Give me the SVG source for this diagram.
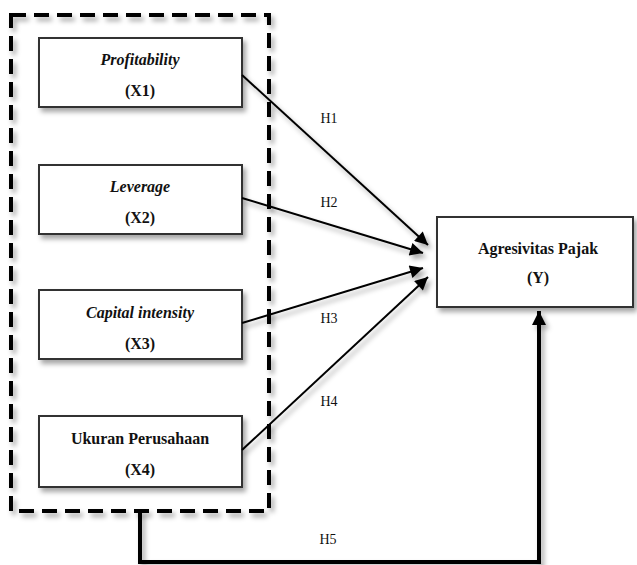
<svg xmlns="http://www.w3.org/2000/svg" width="637" height="565" viewBox="0 0 637 565">
<style>
.box{fill:#fff;stroke:#333;stroke-width:2;}
.t{font-family:"Liberation Serif","DejaVu Serif",serif;font-size:16px;font-weight:bold;fill:#111;text-anchor:middle;}
.i{font-style:italic;}
.lab{font-family:"Liberation Serif","DejaVu Serif",serif;font-size:14px;fill:#111;text-anchor:middle;}
.ln{stroke:#000;stroke-width:2;fill:none;}
</style>
<defs>
<filter id="sh" x="-20%" y="-20%" width="140%" height="150%">
<feDropShadow dx="3" dy="4" stdDeviation="2.5" flood-color="#000" flood-opacity="0.35"/>
</filter>
<marker id="ah" viewBox="0 0 10 10" refX="10" refY="5" markerWidth="7.5" markerHeight="6.5" markerUnits="strokeWidth" orient="auto">
<path d="M0,0 L10,5 L0,10 Z" fill="#000"/>
</marker>
<marker id="ah2" viewBox="0 0 10 10" refX="10" refY="5" markerWidth="4" markerHeight="3.5" markerUnits="strokeWidth" orient="auto">
<path d="M0,0 L10,5 L0,10 Z" fill="#000"/>
</marker>
</defs>
<g id="group-x" filter="url(#sh)">
<rect x="11" y="15" width="258" height="496" fill="none" stroke="#000" stroke-width="4" stroke-dasharray="15,8"/>
</g>
<g id="x1">
<rect class="box" x="39" y="38" width="203" height="69" filter="url(#sh)"/>
<text class="t i" x="140" y="65">Profitability</text>
<text class="t" x="140" y="96">(X1)</text>
</g>
<g id="x2">
<rect class="box" x="39" y="165" width="203" height="69" filter="url(#sh)"/>
<text class="t i" x="140" y="192">Leverage</text>
<text class="t" x="140" y="223">(X2)</text>
</g>
<g id="x3">
<rect class="box" x="39" y="290" width="203" height="69" filter="url(#sh)"/>
<text class="t i" x="140" y="318">Capital intensity</text>
<text class="t" x="140" y="349">(X3)</text>
</g>
<g id="x4">
<rect class="box" x="39" y="416" width="203" height="71" filter="url(#sh)"/>
<text class="t" x="140" y="444">Ukuran Perusahaan</text>
<text class="t" x="140" y="475">(X4)</text>
</g>
<g id="y">
<rect class="box" x="437" y="217" width="196" height="90" filter="url(#sh)"/>
<text class="t" x="538" y="254">Agresivitas Pajak</text>
<text class="t" x="538" y="283">(Y)</text>
</g>
<g id="connectors" filter="url(#sh)">
<line class="ln" x1="242" y1="75" x2="428" y2="245" marker-end="url(#ah)"/>
<line class="ln" x1="242" y1="198" x2="423" y2="253" marker-end="url(#ah)"/>
<line class="ln" x1="242" y1="323" x2="423" y2="268" marker-end="url(#ah)"/>
<line class="ln" x1="242" y1="450" x2="428" y2="277" marker-end="url(#ah)"/>
<polyline points="140,511 140,562 539,562 539,311" fill="none" stroke="#000" stroke-width="4" marker-end="url(#ah2)"/>
</g>
<g id="labels">
<text class="lab" x="329" y="123">H1</text>
<text class="lab" x="329" y="207">H2</text>
<text class="lab" x="329" y="323">H3</text>
<text class="lab" x="329" y="406">H4</text>
<text class="lab" x="328" y="544">H5</text>
</g>
</svg>
